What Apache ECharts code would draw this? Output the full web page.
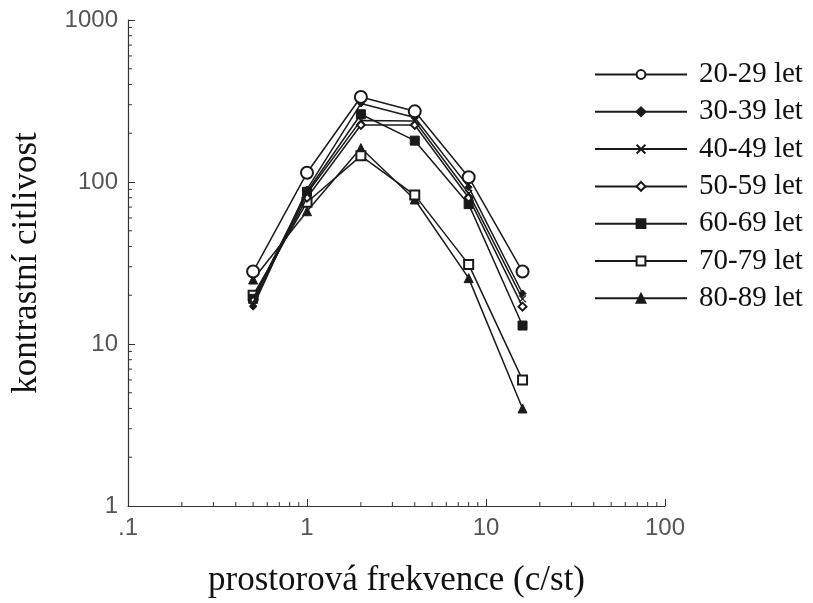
<!DOCTYPE html>
<html>
<head>
<meta charset="utf-8">
<script src="https://cdn.jsdelivr.net/npm/echarts@6/dist/echarts.min.js"></script>
<style>
  html, body { margin: 0; padding: 0; background: #fff; }
  #chart { width: 813px; height: 603px; }
</style>
</head>
<body>
<div id="chart"></div>
<script>
// prostorová frekvence (c/st)
const freq = [0.5, 1, 2, 4, 8, 16];
const groups = ['20-29 let', '30-39 let', '40-49 let', '50-59 let', '60-69 let', '70-79 let', '80-89 let'];
// kontrastní citlivost po věkových skupinách
const s20 = [28, 114, 335, 273, 107, 28];
const s30 = [17, 90, 305, 250, 93, 20.5];
const s40 = [18, 85, 240, 238, 85, 19];
const s50 = [18.5, 80, 225, 225, 80, 17];
const s60 = [19, 87, 262, 180, 73, 13];
const s70 = [20, 75, 145, 83, 31, 6];
const s80 = [25, 66, 162, 78, 25.5, 4];
const xTicks = [0.1, 1, 10, 100];
const yTicks = [1, 10, 100, 1000];

const values = [s20, s30, s40, s50, s60, s70, s80];
const symbols = ['emptyCircle', 'diamond', 'path://M0,0L10,10M10,0L0,10', 'emptyDiamond', 'rect', 'emptyRect', 'triangle'];
const sizes = [12, 7, 7, 8, 9, 9, 9];
const ink = '#1a1a1a';

let chart = echarts.init(document.getElementById('chart'));

let series = groups.map((name, i) => ({
  name: name,
  type: 'line',
  data: freq.map((f, j) => [f, values[i][j]]),
  symbol: symbols[i],
  symbolSize: sizes[i],
  showAllSymbol: true,
  z: 10 - i,
  lineStyle: { color: ink, width: 1.5 },
  itemStyle: {
    color: ink,
    borderColor: ink,
    borderWidth: i === 2 ? 1.3 : 1
  },
  emphasis: { disabled: true }
}));

let option = {
  animation: false,
  backgroundColor: '#fff',
  grid: { left: 128, right: 148, top: 20, bottom: 94 },
  legend: {
    orient: 'vertical',
    left: 589,
    top: 55,
    itemWidth: 92,
    itemHeight: 11,
    itemGap: 8.3,
    selectedMode: false,
    textStyle: {
      fontFamily: 'Liberation Serif',
      fontSize: 29,
      color: '#111',
      padding: [0, 0, 0, 7]
    },
    data: groups
  },
  xAxis: {
    type: 'log',
    min: 0.1,
    max: 100,
    name: 'prostorová frekvence (c/st)',
    nameLocation: 'middle',
    nameGap: 57,
    nameTextStyle: { fontFamily: 'Liberation Serif', fontSize: 35, color: '#111' },
    axisLine: { lineStyle: { color: '#333', width: 1.2 } },
    axisTick: { inside: true, length: 7, lineStyle: { color: '#333' } },
    axisLabel: {
      margin: 10,
      fontFamily: 'Liberation Sans',
      fontSize: 24,
      color: '#555',
      formatter: v => (Math.abs(v - 0.1) < 1e-9 ? '.1' : String(Math.round(v)))
    },
    splitLine: { show: false }
  },
  yAxis: {
    type: 'log',
    min: 1,
    max: 1000,
    name: 'kontrastní citlivost',
    nameLocation: 'middle',
    nameGap: 84,
    nameTextStyle: { fontFamily: 'Liberation Serif', fontSize: 35, color: '#111' },
    axisLine: { lineStyle: { color: '#333', width: 1.2 } },
    axisTick: { inside: true, length: 7, lineStyle: { color: '#333' } },
    axisLabel: {
      margin: 10,
      fontFamily: 'Liberation Sans',
      fontSize: 24,
      color: '#555',
      formatter: v => String(Math.round(v))
    },
    splitLine: { show: false }
  },
  series: series
};

chart.setOption(option);

// vedlejší značky na log osách (2..9 v každé dekádě)
let minor = [];
for (let d = 0; d < 3; d++) {
  for (let k = 2; k <= 9; k++) {
    let xv = xTicks[d] * k;
    let px = chart.convertToPixel({ xAxisIndex: 0 }, xv);
    let py0 = chart.convertToPixel({ yAxisIndex: 0 }, 1);
    minor.push({
      type: 'line',
      shape: { x1: px, y1: py0, x2: px, y2: py0 - 4 },
      style: { stroke: '#333', lineWidth: 1 },
      silent: true
    });
    let yv = yTicks[d] * k;
    let qy = chart.convertToPixel({ yAxisIndex: 0 }, yv);
    let qx0 = chart.convertToPixel({ xAxisIndex: 0 }, 0.1);
    minor.push({
      type: 'line',
      shape: { x1: qx0, y1: qy, x2: qx0 + 4, y2: qy },
      style: { stroke: '#333', lineWidth: 1 },
      silent: true
    });
  }
}
chart.setOption({ graphic: minor });
</script>
</body>
</html>
